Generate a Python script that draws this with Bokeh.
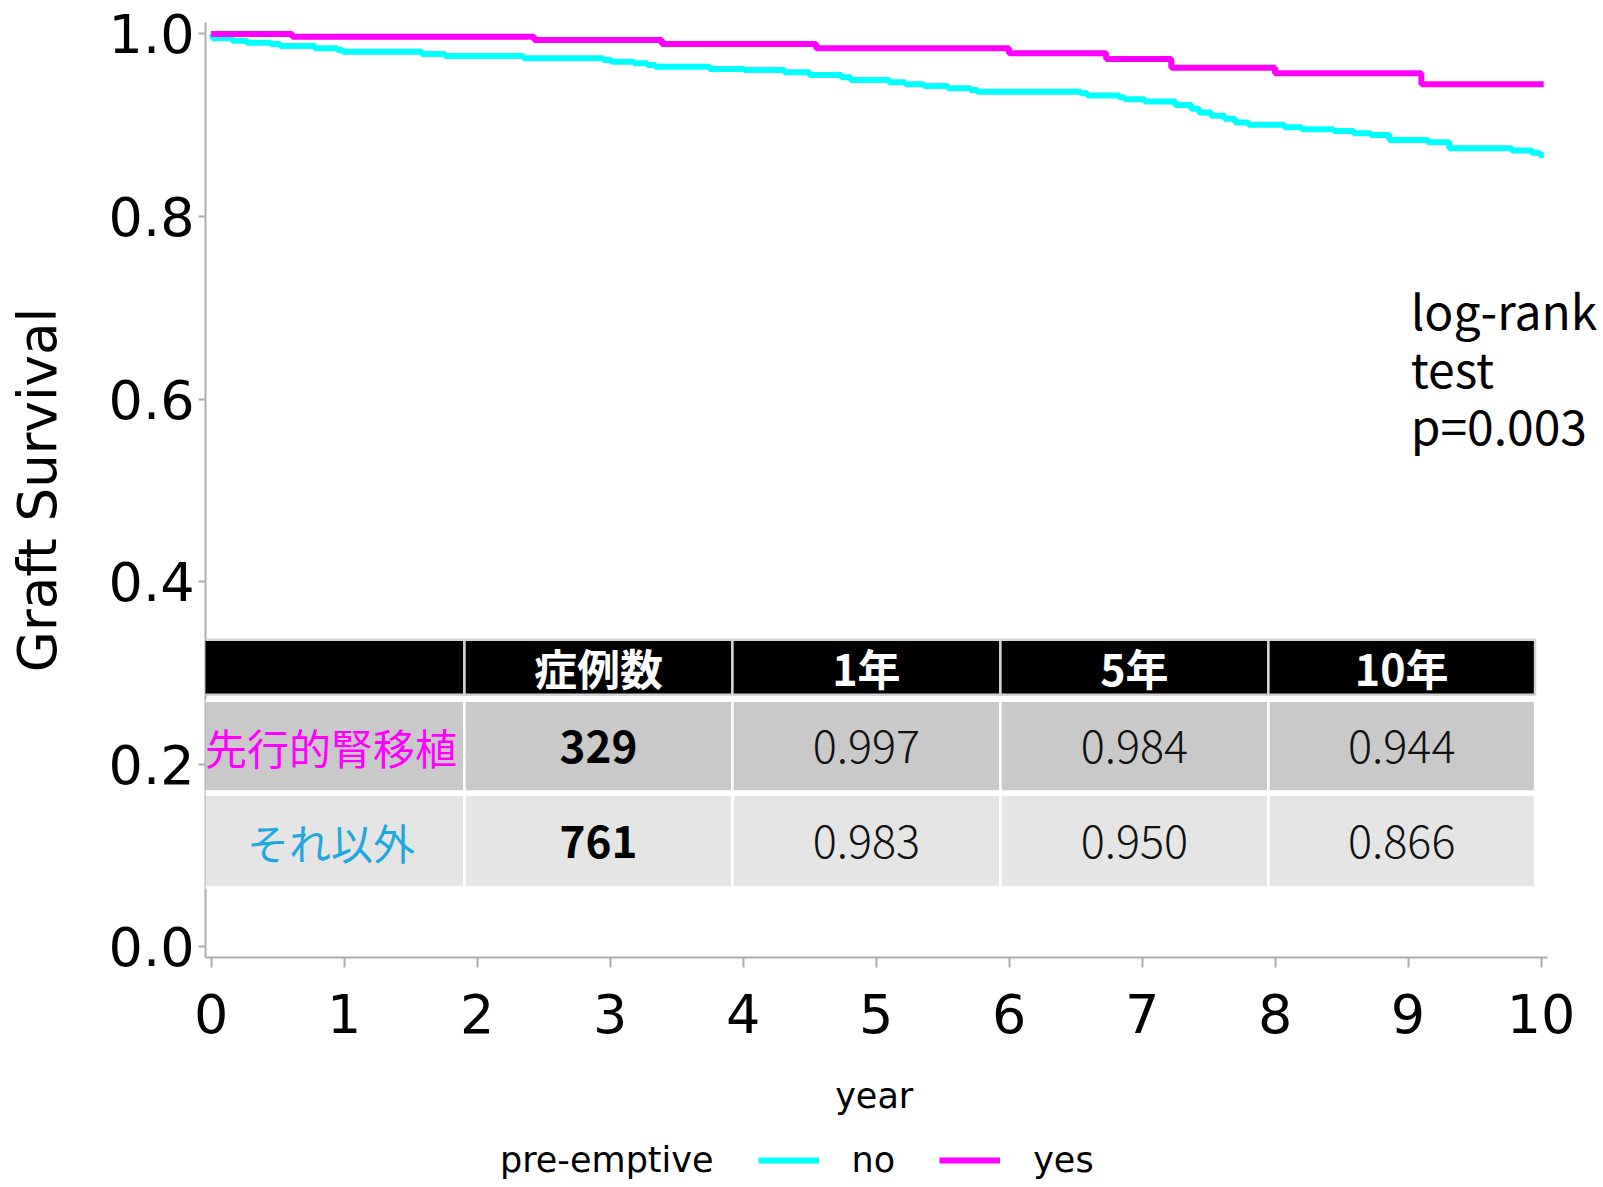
from bokeh.plotting import figure
from bokeh.layouts import column
from bokeh.models import BoxAnnotation, Label, Legend, LegendItem, FixedTicker
from bokeh.embed import file_html
from bokeh.resources import INLINE

# ---------------- data ----------------
no_time = [0.00, 0.01, 0.16, 0.27, 0.45, 0.52, 0.78, 0.95, 0.99, 1.585,
           1.76, 2.35, 2.95, 3.01, 3.18, 3.28, 3.34, 3.75, 4.01, 4.31,
           4.50, 4.74, 4.81, 5.10, 5.22, 5.36, 5.54, 5.71, 5.76, 6.54,
           6.59, 6.83, 6.87, 7.02, 7.25, 7.37, 7.43, 7.52, 7.62, 7.70,
           7.80, 8.07, 8.20, 8.44, 8.59, 8.72, 8.86, 9.15, 9.31, 9.78,
           9.93, 9.99]
no_surv = [1.000, 0.9953, 0.9927, 0.9905, 0.9890, 0.9869, 0.9843, 0.9825, 0.9806, 0.9781,
           0.9759, 0.9733, 0.9715, 0.9697, 0.9679, 0.9660, 0.9642, 0.9617, 0.9606, 0.9580,
           0.9551, 0.9525, 0.9496, 0.9471, 0.9449, 0.9430, 0.9405, 0.9387, 0.9368, 0.9350,
           0.9325, 0.9303, 0.9284, 0.9259, 0.9222, 0.9180, 0.9140, 0.9105, 0.9070, 0.9030,
           0.9005, 0.8978, 0.8956, 0.8938, 0.8912, 0.8894, 0.8839, 0.8814, 0.8748, 0.8722,
           0.8700, 0.8675]
yes_time = [0.00, 0.61, 2.43, 3.39, 4.55, 6.00, 6.73, 7.22, 8.00, 9.10]
yes_surv = [1.000, 0.997, 0.9935, 0.989, 0.9843, 0.979, 0.9725, 0.963, 0.957, 0.945]
follow_up_end = 10.02

x_ticks = [0, 1, 2, 3, 4, 5, 6, 7, 8, 9, 10]
y_ticks = [0.0, 0.2, 0.4, 0.6, 0.8, 1.0]
y_tick_labels = ["0.0", "0.2", "0.4", "0.6", "0.8", "1.0"]

group_labels = ["no", "yes"]
legend_title = "pre-emptive"
x_title = "year"
y_title = "Graft Survival"

table_header = ["", "症例数", "1年", "5年", "10年"]
table_groups = ["先行的腎移植", "それ以外"]
table_counts = ["329", "761"]
table_1yr = ["0.997", "0.983"]
table_5yr = ["0.984", "0.950"]
table_10yr = ["0.944", "0.866"]
logrank_lines = ["log-rank", "test", "p=0.003"]

# ---------------- style ----------------
CYAN = "#00ffff"
MAGENTA = "#ff00ff"
AXIS_GRAY = "#a9adb1"
LATIN = "DejaVu Sans"
CJK = "Noto Sans CJK JP"
CJK_LIGHT = "Noto Sans CJK JP Light, Noto Sans CJK JP DemiLight, Noto Sans CJK JP"

X_START, X_AXIS_END, X_VIEW_END = -0.042, 10.05, 10.432

no_x = no_time + [follow_up_end]
no_y = no_surv + [no_surv[-1]]
yes_x = yes_time + [follow_up_end]
yes_y = yes_surv + [yes_surv[-1]]

p = figure(frame_width=1393, frame_height=935,
           x_range=(X_START, X_VIEW_END), y_range=(-0.012, 1.0126),
           min_border_left=205, min_border_right=2,
           min_border_top=22, min_border_bottom=178,
           output_backend="svg", toolbar_location=None)
p.outline_line_color = None
p.xgrid.grid_line_color = None
p.ygrid.grid_line_color = None
p.background_fill_color = "white"
p.border_fill_color = "white"

p.step(x=no_x, y=no_y, mode="after", line_color=CYAN, line_width=6)
p.step(x=yes_x, y=yes_y, mode="after", line_color=MAGENTA, line_width=6)

# axes
for ax in (p.xaxis[0], p.yaxis[0]):
    ax.axis_line_color = AXIS_GRAY
    ax.axis_line_width = 2
    ax.major_tick_line_color = AXIS_GRAY
    ax.major_tick_line_width = 2
    ax.major_tick_in = 0
    ax.minor_tick_line_color = None
    ax.major_label_text_font = LATIN
    ax.major_label_text_color = "black"
    ax.axis_label_text_font = LATIN
    ax.axis_label_text_font_style = "normal"
    ax.axis_label_text_color = "black"

p.xaxis.bounds = (X_START, X_AXIS_END)
p.xaxis.ticker = FixedTicker(ticks=x_ticks)
p.xaxis.major_tick_out = 10
p.xaxis.major_label_standoff = 26
p.xaxis.major_label_text_font_size = "54px"
# trailing no-break spaces centre the title under the axis span rather than the wider frame
p.xaxis.axis_label = x_title + "\u00a0" * 5
p.xaxis.axis_label_text_font_size = "35px"
p.xaxis.axis_label_standoff = 40

p.yaxis.ticker = FixedTicker(ticks=y_ticks)
p.yaxis.major_label_overrides = {t: l for t, l in zip(y_ticks, y_tick_labels)}
p.yaxis.major_tick_out = 7
p.yaxis.major_label_standoff = 4
p.yaxis.major_label_text_font_size = "54px"
p.yaxis.axis_label = y_title
p.yaxis.axis_label_text_font_size = "53px"
p.yaxis.axis_label_standoff = 38

# log-rank annotation
for txt, yy in zip(logrank_lines, [0.6983, 0.6353, 0.5726]):
    p.add_layout(Label(x=9.02, y=yy, text=txt, text_font=CJK, text_color="black",
                       text_font_size="48px", text_baseline="alphabetic"))

# table
col_edges = [-0.1, 1.905, 3.92, 5.935, 7.95, 9.955]
row_edges = [(0.3363, 0.2760), (0.2694, 0.1698), (0.1665, 0.0646)]
row_fills = ["#000000", "#c9c9c9", "#e5e5e5"]
row_lines = ["#d4d4d4", "white", "white"]
for (top, bottom), fill, lc in zip(row_edges, row_fills, row_lines):
    for c in range(5):
        p.add_layout(BoxAnnotation(left=col_edges[c], right=col_edges[c + 1], top=top, bottom=bottom,
                                   fill_color=fill, fill_alpha=1.0, line_color=lc,
                                   line_alpha=1.0, line_width=2.5, level="annotation"))

centers = [(col_edges[i] + col_edges[i + 1]) / 2 for i in range(5)]
row_mid = [(t + b) / 2 for t, b in row_edges]

def add_text(x, y, text, font, size, color, bold=False):
    p.add_layout(Label(x=x, y=y, text=text, text_font=font, text_font_size=size,
                       text_color=color, text_font_style="bold" if bold else "normal",
                       text_align="center", text_baseline="middle", level="overlay"))

for c in range(1, 5):
    add_text(centers[c], row_mid[0], table_header[c], CJK, "43px", "white", bold=True)

group_colors = [MAGENTA, "#1fa8e0"]
for r in range(2):
    y = row_mid[r + 1]
    add_text(centers[0], y, table_groups[r], CJK, "42px", group_colors[r])
    add_text(centers[1], y, table_counts[r], CJK, "44px", "black", bold=True)
    add_text(centers[2], y, table_1yr[r], CJK_LIGHT, "45px", "#111111")
    add_text(centers[3], y, table_5yr[r], CJK_LIGHT, "45px", "#111111")
    add_text(centers[4], y, table_10yr[r], CJK_LIGHT, "45px", "#111111")

# ---------------- legend strip below the chart ----------------
# the strip's ranges lie outside the data, so only the legend is seen
p2 = figure(width=1600, height=50, x_range=(100, 101), y_range=(100, 101),
            x_axis_type=None, y_axis_type=None, min_border=0,
            output_backend="svg", toolbar_location=None)
p2.outline_line_color = None
p2.xgrid.grid_line_color = None
p2.ygrid.grid_line_color = None
p2.background_fill_color = "white"
p2.border_fill_color = "white"
g_title = p2.line(x=no_x, y=no_y, line_alpha=0)
g_no = p2.step(x=no_x, y=no_y, mode="after", line_color=CYAN, line_width=6)
g_yes = p2.step(x=yes_x, y=yes_y, mode="after", line_color=MAGENTA, line_width=6)
legend = Legend(items=[LegendItem(label=legend_title, renderers=[g_title]),
                       LegendItem(label=group_labels[0], renderers=[g_no]),
                       LegendItem(label=group_labels[1], renderers=[g_yes])],
                orientation="horizontal", location="center_left",
                glyph_width=61, glyph_height=40, label_height=40,
                label_standoff=33, spacing=44, padding=0, margin=201,
                border_line_color=None, background_fill_alpha=0,
                label_text_font=LATIN, label_text_font_size="35px",
                label_text_color="black")
p2.add_layout(legend)

open("out.html", "w").write(file_html(column(p, p2, spacing=0), INLINE))
